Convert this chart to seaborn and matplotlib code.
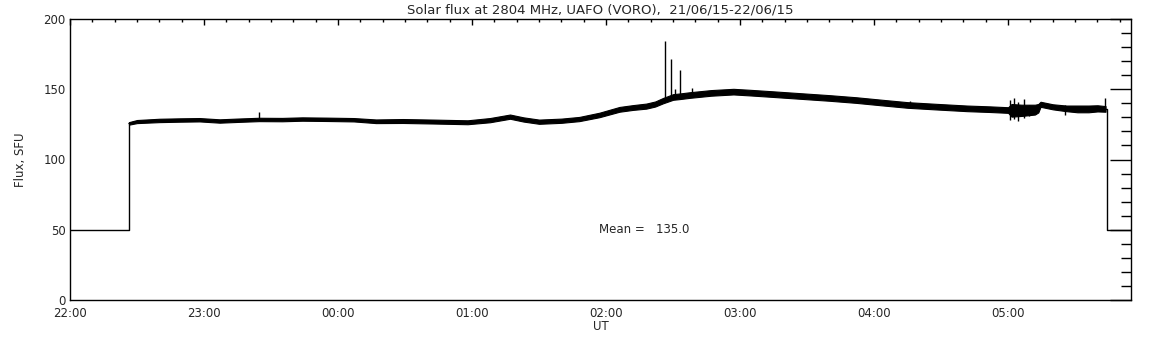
import pandas as pd
import matplotlib.pyplot as plt
import matplotlib.ticker as mticker
import seaborn as sns

# minutes after 22:00 UT, band centre (SFU) and half thickness of the noisy trace
t_min = [26.4, 30, 40, 49, 58, 67, 76, 84.6, 95, 104, 115, 127, 137, 149, 163,
         178, 188, 197, 203, 210, 220, 228, 237, 246, 252, 258, 262, 265.5, 270,
         273, 277.6, 287, 297, 304.5, 315, 327, 340, 352, 363, 375, 388, 401.6,
         412, 420, 421.5, 426, 432, 433.5, 434.5, 440, 446, 451, 456, 460, 463.6]
flux = [125.7, 127, 127.8, 128.1, 128.3, 127.4, 128, 128.5, 128.4, 128.8, 128.6,
        128.3, 127.2, 127.4, 127, 126.5, 128, 130.5, 128.5, 126.9, 127.6, 128.8,
        131.7, 135.7, 137, 138, 139.5, 141.9, 144.5, 145, 145.9, 147.4, 148.3,
        147.6, 146.5, 145.2, 143.8, 142.3, 140.6, 138.8, 137.6, 136.4, 135.8,
        135.2, 135, 135, 135.5, 136.5, 139.3, 137.5, 136.4, 136, 136, 136.4, 136]
half = [0.9, 1.1, 1.2, 1.2, 1.2, 1.2, 1.2, 1.2, 1.2, 1.2, 1.2, 1.2, 1.3, 1.4,
        1.4, 1.4, 1.5, 1.5, 1.5, 1.5, 1.5, 1.5, 1.6, 1.7, 1.7, 1.8, 1.8, 1.9,
        2.0, 2.0, 2.0, 2.0, 2.0, 2.0, 2.0, 2.0, 2.0, 2.0, 2.0, 2.0, 2.0, 2.0,
        2.0, 2.0, 4.5, 4.0, 3.5, 3.0, 1.8, 1.8, 2.0, 2.4, 2.4, 2.2, 2.0]

# single-sample spikes: time, base and top (SFU)
spike_t = [84.6, 266.4, 269.1, 273.1, 271.0, 278.4, 376.0, 421.0, 422.5, 424.5,
           427.0, 429.5, 445.5, 463.4]
spike_base = [128.5, 143, 145, 145, 145, 146.3, 138.8, 132, 131, 132, 132, 133,
              133, 136]
spike_top = [133.6, 184, 171.5, 164, 150, 151, 141.5, 142, 144, 141, 143, 139,
             139, 143.5]
spike_low = [128.5, 143, 145, 145, 145, 146.3, 138.8, 128, 129, 127.5, 129.5,
             131, 131.5, 136]

# flat 50 SFU level before and after the observation
lead_t = [0, 26.4, 26.4]
lead_flux = [50, 50, 125.7]
tail_t = [463.6, 464.3, 464.3, 475]
tail_flux = [136, 136, 50, 50]

df = pd.DataFrame({'t': t_min, 'flux': flux, 'half': half})
df['lo'] = df['flux'] - df['half']
df['hi'] = df['flux'] + df['half']
lead = pd.DataFrame({'t': lead_t, 'flux': lead_flux})
tail = pd.DataFrame({'t': tail_t, 'flux': tail_flux})

sns.set_style('white')
plt.rcParams['font.family'] = ['DejaVu Sans']

fig = plt.figure(figsize=(11.52, 3.45), dpi=100)
ax = fig.add_axes([70 / 1152, 1 - 300 / 345, 1061 / 1152, 281 / 345])

ax.fill_between(df['t'], df['lo'], df['hi'], color='black', lw=0.8,
                edgecolor='black')
sns.lineplot(data=df, x='t', y='flux', ax=ax, color='black', lw=1,
             estimator=None, sort=False)
sns.lineplot(data=lead, x='t', y='flux', ax=ax, color='black', lw=1,
             estimator=None, sort=False)
sns.lineplot(data=tail, x='t', y='flux', ax=ax, color='black', lw=1,
             estimator=None, sort=False)
ax.vlines(spike_t, spike_low, spike_top, color='black', lw=1)

ax.set_xlim(0, 475)
ax.set_ylim(0, 200)

ax.xaxis.set_major_locator(mticker.MultipleLocator(60))
ax.xaxis.set_minor_locator(mticker.MultipleLocator(10))
ax.xaxis.set_major_formatter(mticker.FuncFormatter(
    lambda m, p: '%02d:00' % ((22 + int(round(m)) // 60) % 24)))
ax.yaxis.set_major_locator(mticker.MultipleLocator(50))
ax.yaxis.set_minor_locator(mticker.MultipleLocator(10))

ax.tick_params(axis='both', which='both', direction='in', top=True, right=True,
               width=1, color='black', labelsize=8.5)
ax.tick_params(axis='x', which='major', length=4, pad=5)
ax.tick_params(axis='x', which='minor', length=2)
ax.tick_params(axis='y', which='major', length=15, pad=3)
ax.tick_params(axis='y', which='minor', length=7.5)

for s in ax.spines.values():
    s.set_color('black')
    s.set_linewidth(1)

ax.set_title('Solar flux at 2804 MHz, UAFO (VORO),  21/06/15-22/06/15',
             fontsize=9.5, pad=4)
ax.set_xlabel('UT', fontsize=8.5, labelpad=0)
ax.set_ylabel('Flux, SFU', fontsize=8.5, labelpad=12)
ax.text(237, 50, 'Mean =   135.0', fontsize=8.5, va='center', ha='left')

fig.savefig('out.png', dpi=100)
